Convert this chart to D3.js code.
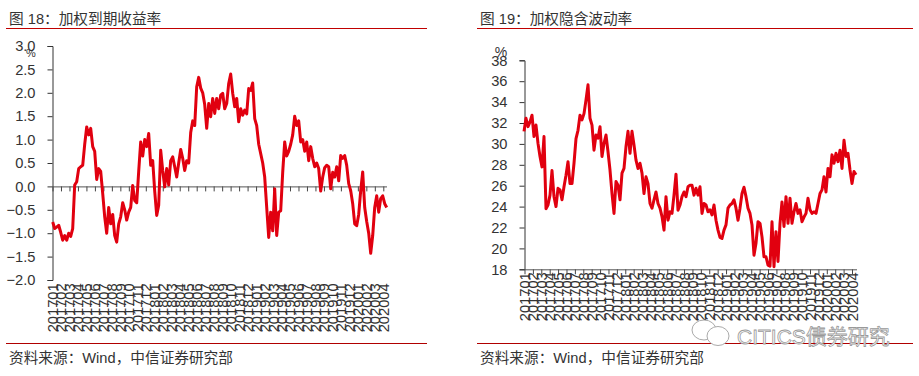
<!DOCTYPE html>
<html><head><meta charset="utf-8">
<script src="https://d3js.org/d3.v7.min.js"></script>
<style>
html,body{margin:0;padding:0;background:#fff}
svg{display:block}
text{font-family:"Liberation Sans","Noto Sans CJK SC",sans-serif}
</style></head><body><svg id="c" width="919" height="376"></svg>
<script>
const months = ["201701","201702","201703","201704","201705","201706","201707","201708","201709","201710","201711","201712",
"201801","201802","201803","201804","201805","201806","201807","201808","201809","201810","201811","201812",
"201901","201902","201903","201904","201905","201906","201907","201908","201909","201910","201911","201912",
"202001","202002","202003","202004"];
const yieldTicks = [3.0,2.5,2.0,1.5,1.0,0.5,0.0,-0.5,-1.0,-1.5,-2.0];
const ivTicks = [38,36,34,32,30,28,26,24,22,20,18];
const yieldValues = [-.76,-.9,-.87,-.83,-.98,-1.15,-1.05,-1.15,-1.0,-1.07,-.9,.03,.1,.38,.42,.45,.9,1.27,1.1,1.24,.85,.75,.15,.38,.32,-.15,-.65,-1.0,-.45,-.8,-.6,-1.05,-1.19,-.8,-.65,-.35,-.5,-.72,-.55,-.45,.02,-.3,-.35,.32,.95,.65,1.0,.85,1.13,.45,.55,-.1,-.62,-.4,.77,.34,-.01,.38,.03,.55,.63,.42,.2,.5,.79,.6,.34,.55,.5,1.15,1.4,1.3,2.13,2.33,2.1,2.0,1.75,1.24,1.77,1.49,1.88,1.56,1.88,1.66,1.95,1.99,1.66,1.77,2.2,2.4,1.99,1.7,1.88,1.38,1.66,1.52,1.63,1.55,2.09,2.05,2.21,1.45,1.3,.9,.7,.5,.2,-.45,-1.09,-.55,-.95,-.05,-1.05,-.55,-.52,.3,.95,.65,.75,.9,1.1,1.5,1.3,1.4,.95,1.0,.75,.95,.55,.85,.6,.42,.5,.38,-.1,.2,.4,.45,.42,-.05,.3,.2,.42,.12,.66,.6,.66,.45,.06,-.09,-.37,-.8,-.84,-.6,-.09,.31,-.45,-.75,-1.0,-1.43,-1.05,-.45,-.2,-.55,-.26,-.2,-.37,-.45];
const ivValues = [31.2,32.45,31.65,32.1,32.75,30.7,31.8,30.05,28.8,27.8,30.7,23.8,24.15,25.1,27.45,24.95,24,25.75,25.6,24.65,25.9,27,28.3,26.2,26.2,28.15,30.5,31.3,32.75,32.3,32.9,34.2,35.65,32.45,31.8,29.4,30.85,30.55,31.65,28.8,30.05,30.85,29.25,27.5,25.25,23.35,26.4,26.05,24.65,27.2,27.65,29.75,31.2,29.1,31.2,29.9,28.45,27.65,28.15,27.2,25.25,26.85,26.2,24.3,23.85,24.65,25.4,24.3,23.85,23.05,21.75,24.95,22.7,23.5,23.35,25.1,27.1,23.65,24.15,24.95,25.4,24.95,25.9,26.05,26.05,25.1,25.75,25.1,25.9,23.35,24.3,24.15,23.5,23.7,23.2,24.15,22.7,21.75,21.05,20.95,21.75,22.25,23.85,24.15,24.3,24.65,23.85,22.7,23.85,25.25,25.85,24.95,23.85,23.35,22.25,19.35,20.5,22.55,22.4,21.1,19.2,19.2,18.4,18.3,22.55,18.25,21.6,18.75,22.4,24.45,22.1,24.95,22.4,24.8,22.4,23.5,24.3,23.35,23.7,22.55,23,23.35,24.8,23.7,23.35,23.5,23.35,24.3,25.25,25.6,26.85,25.4,27.65,26.85,28.95,28.15,29.1,28.3,29.4,27.65,30.35,28.8,29.1,27.5,26.2,27.35,27.05];

const svg = d3.select("#c");
const RED = "#e1000f", INK = "#333333";

function panel(o){
  const g = svg.append("g");
  const y = d3.scaleLinear().domain(o.yDomain).range(o.yRange);
  const xBand = d3.scalePoint().domain(months).range(o.tickRange);
  const xLine = d3.scaleLinear().domain([0,o.values.length-1]).range(o.lineRange);

  const ya = g.append("g").attr("transform",`translate(${o.axisX},0)`)
    .call(d3.axisLeft(y).tickValues(o.yTicks).tickFormat(o.fmt).tickSizeOuter(0).tickSize(5).tickPadding(12));
  ya.selectAll("line,path").attr("stroke","#333");
  ya.selectAll("text").attr("font-size",14.67).attr("fill",INK);

  const xa = g.append("g").attr("transform",`translate(0,${y(o.crossAt)})`)
    .call(d3.axisBottom(xBand).tickSize(5).tickSizeOuter(0));
  xa.select("path").remove();
  xa.selectAll("line").attr("stroke","#444");
  xa.append("line").attr("x1",o.tickRange[0]).attr("x2",o.axisEnd).attr("y1",0.5).attr("y2",0.5).attr("stroke","#555");
  xa.selectAll("text").attr("font-size",14.67).attr("fill",INK)
    .attr("text-anchor","end")
    .attr("transform",`translate(5,${o.labelTop}) rotate(-90)`)
    .attr("x",0).attr("y",0).attr("dy",0);

  g.append("path").datum(o.values)
    .attr("fill","none").attr("stroke",RED).attr("stroke-width",3).attr("stroke-linejoin","round")
    .attr("d",d3.line().x((d,i)=>xLine(i)).y(d=>y(d)));

  g.append("text").attr("x",o.titleX).attr("y",24).attr("font-size",14.67).attr("fill",INK).text(o.title);
  g.append("line").attr("x1",o.ruleX[0]).attr("x2",o.ruleX[1]).attr("y1",28.5).attr("y2",28.5).attr("stroke","#c00000");
  g.append("line").attr("x1",o.ruleX[0]).attr("x2",o.ruleX[1]).attr("y1",343.5).attr("y2",343.5).attr("stroke","#b00000");
  g.append("text").attr("x",o.titleX).attr("y",363).attr("font-size",14.67).attr("fill",INK).text("资料来源：Wind，中信证券研究部");
  g.append("text").attr("x",o.unit[0]).attr("y",o.unit[1]).attr("font-size",o.unit[2]).attr("fill",INK).attr("text-anchor","middle").text("%");
}

panel({title:"图 18：加权到期收益率",titleX:9,ruleX:[6,427],values:yieldValues,yDomain:[-2,3],yRange:[280,46],yTicks:yieldTicks,
  fmt:d3.format(".1f"),axisX:52.5,tickRange:[52.5,383.3],lineRange:[52.7,386.7],axisEnd:387,crossAt:0,labelTop:97,unit:[31,57,11]});
panel({title:"图 19：加权隐含波动率",titleX:480,ruleX:[477,913],values:ivValues,yDomain:[18,38],yRange:[269.3,60.3],yTicks:ivTicks,
  fmt:d3.format("d"),axisX:524.5,tickRange:[524.5,852],lineRange:[524,856],axisEnd:857,crossAt:18,labelTop:3,unit:[501,57,14]});

const wm = svg.append("g").attr("fill","#fff").attr("stroke","#aaa").attr("stroke-width",1);
wm.append("ellipse").attr("cx",704).attr("cy",330).attr("rx",12).attr("ry",10);
wm.append("ellipse").attr("cx",718).attr("cy",336).attr("rx",11).attr("ry",9.5);
svg.append("text").attr("x",737).attr("y",344).attr("font-size",21).attr("fill","#fff").attr("stroke","#999").attr("stroke-width",0.8).text("CITICS债券研究");
</script></body></html>
